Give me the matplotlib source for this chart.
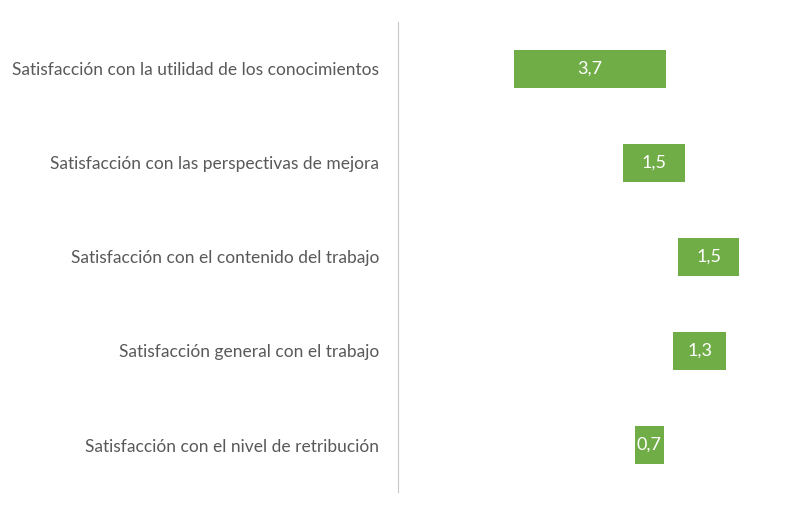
import matplotlib
matplotlib.use("Agg")
import matplotlib.pyplot as plt

# Categories (top to bottom) and floating bar data
categories = [
    "Satisfacción con la utilidad de los conocimientos",
    "Satisfacción con las perspectivas de mejora",
    "Satisfacción con el contenido del trabajo",
    "Satisfacción general con el trabajo",
    "Satisfacción con el nivel de retribución",
]
bases = [2.84, 5.50, 6.84, 6.72, 5.79]
values = [3.7, 1.5, 1.5, 1.3, 0.7]
labels = ["3,7", "1,5", "1,5", "1,3", "0,7"]

GREEN = "#70AD47"
GREY = "#595959"

plt.rcParams['font.family'] = ['Lato', 'DejaVu Sans']

fig = plt.figure(figsize=(7.9, 5.15), dpi=100)
ax = fig.add_axes([397.5 / 790, 23 / 515, 390 / 790, 470 / 515])

ypos = list(range(len(categories)))
ax.barh(ypos, values, left=bases, height=0.4, color=GREEN)

for y, b, v, lab in zip(ypos, bases, values, labels):
    ax.text(b + v / 2, y, lab, ha="center", va="center", color="white", fontsize=13)

ax.set_yticks(ypos)
ax.set_yticklabels(categories, fontsize=12.5, color=GREY)
ax.tick_params(axis="y", length=0, pad=13)
ax.set_ylim(len(categories) - 0.5, -0.5)
ax.set_xlim(0, 390 / 41)
ax.set_xticks([])

for s in ["top", "right", "bottom"]:
    ax.spines[s].set_visible(False)
ax.spines["left"].set_color("#C8C8C8")
ax.spines["left"].set_linestyle((0, (2, 1)))
ax.spines["left"].set_linewidth(0.8)

fig.savefig("out.png", dpi=100)
